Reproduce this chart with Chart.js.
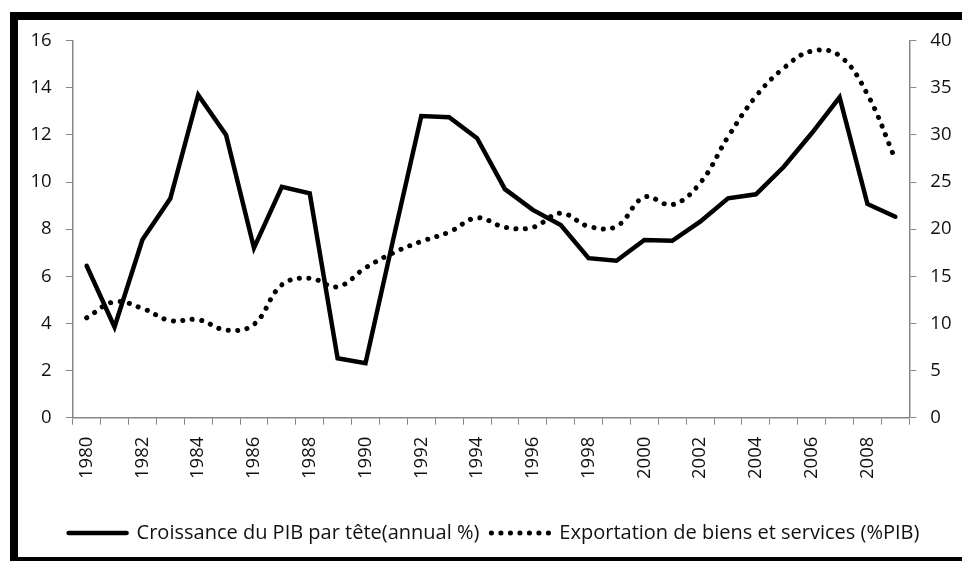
<!DOCTYPE html>
<html>
<head>
<meta charset="utf-8">
<script src="https://cdn.jsdelivr.net/npm/chart.js@4/dist/chart.umd.min.js"></script>
<style>
  html, body { margin: 0; padding: 0; background: #fff; overflow: hidden; }
  #frame {
    position: absolute; left: 10px; top: 12px;
    width: 960px; height: 537px;
    border-left: 8px solid #000; border-top: 8px solid #000; border-bottom: 4px solid #000;
  }
  #chart { position: absolute; left: 0; top: 0; }
</style>
</head>
<body>
<div id="frame"><canvas id="chart" width="944" height="537"></canvas></div>
<script>
// Years 1980-2009
const years = ['1980', '1981', '1982', '1983', '1984', '1985', '1986', '1987', '1988', '1989',
               '1990', '1991', '1992', '1993', '1994', '1995', '1996', '1997', '1998', '1999',
               '2000', '2001', '2002', '2003', '2004', '2005', '2006', '2007', '2008', '2009'];

// Croissance du PIB par tête (annual %) - left axis
const pibGrowth = [6.45, 3.85, 7.55, 9.3, 13.7, 12.0, 7.2, 9.8, 9.52, 2.52,
                   2.31, 7.6, 12.8, 12.75, 11.86, 9.7, 8.82, 8.18, 6.77, 6.66,
                   7.54, 7.51, 8.32, 9.31, 9.48, 10.65, 12.07, 13.6, 9.07, 8.53];

// Exportation de biens et services (%PIB) - right axis
const exports = [10.6, 12.3, 11.6, 10.3, 10.4, 9.3, 9.9, 14.1, 14.8, 13.9,
                 15.9, 17.5, 18.7, 19.7, 21.2, 20.2, 20.2, 21.7, 20.3, 20.3,
                 23.4, 22.6, 24.9, 29.8, 34.1, 37.1, 38.9, 38.4, 34.3, 27.4];

const leftTicks = { min: 0, max: 16, step: 2 };
const rightTicks = { min: 0, max: 40, step: 5 };

const axisGray = '#868686';
Chart.defaults.font.family = 'Open Sans';
Chart.defaults.font.size = 18.5;
Chart.defaults.color = '#111';

// fixed axis widths, and keep the label padding from pushing the plot top down
function fixY(width) {
    return s => { s.width = width; s.paddingTop = 10; s.paddingBottom = 10; };
}

const ctx = document.getElementById('chart').getContext('2d');
const chart = new Chart(ctx, {
    type: 'line',
    data: {
        labels: years,
        datasets: [{
            label: 'Croissance du PIB par tête(annual %)',
            data: pibGrowth,
            yAxisID: 'y',
            borderColor: '#000',
            backgroundColor: '#000',
            borderWidth: 4.5,
            borderJoinStyle: 'miter',
            borderCapStyle: 'round',
            pointRadius: 0,
            pointStyle: 'line',
            tension: 0
        }, {
            label: 'Exportation de biens et services (%PIB)',
            data: exports,
            yAxisID: 'y2',
            borderColor: '#000',
            backgroundColor: '#000',
            borderWidth: 5,
            borderDash: [0.1, 9.4],
            borderCapStyle: 'round',
            pointRadius: 0,
            pointStyle: 'line',
            tension: 0.4
        }]
    },
    options: {
        responsive: false,
        animation: false,
        layout: { padding: { left: 8, right: 0, top: 20.7, bottom: 4 } },
        plugins: {
            tooltip: { enabled: false },
            legend: {
                position: 'bottom',
                labels: {
                    usePointStyle: true,
                    pointStyleWidth: 58,
                    padding: 12,
                    color: '#111',
                    font: { size: 20 },
                    // point style legend ignores the dataset dash, so copy it over
                    generateLabels: function(chart) {
                        const items = Chart.defaults.plugins.legend.labels.generateLabels(chart);
                        items.forEach((item, i) => {
                            const ds = chart.data.datasets[i];
                            item.lineDash = ds.borderDash || [];
                            item.lineCap = 'round';
                            item.lineWidth = ds.borderWidth;
                            item.strokeStyle = ds.borderColor;
                        });
                        return items;
                    }
                }
            }
        },
        scales: {
            x: {
                offset: true,
                grid: { offset: true, drawOnChartArea: false, tickLength: 7, color: axisGray },
                border: { color: axisGray, width: 1.5 },
                ticks: {
                    autoSkip: false,
                    minRotation: 90,
                    maxRotation: 90,
                    padding: 12,
                    callback: function(value, index) {
                        return index % 2 === 0 ? this.getLabelForValue(value) : '';
                    }
                },
                afterFit: s => { s.height = 93.3; }
            },
            y: {
                position: 'left',
                min: leftTicks.min,
                max: leftTicks.max,
                ticks: { stepSize: leftTicks.step, padding: 14 },
                grid: { drawOnChartArea: false, tickLength: 7, color: axisGray },
                border: { color: axisGray, width: 1.5 },
                afterFit: fixY(46.7)
            },
            y2: {
                position: 'right',
                min: rightTicks.min,
                max: rightTicks.max,
                ticks: { stepSize: rightTicks.step, padding: 14 },
                grid: { drawOnChartArea: false, tickLength: 7, color: axisGray },
                border: { color: axisGray, width: 1.5 },
                afterFit: fixY(52.7)
            }
        }
    }
});
</script>
</body>
</html>
